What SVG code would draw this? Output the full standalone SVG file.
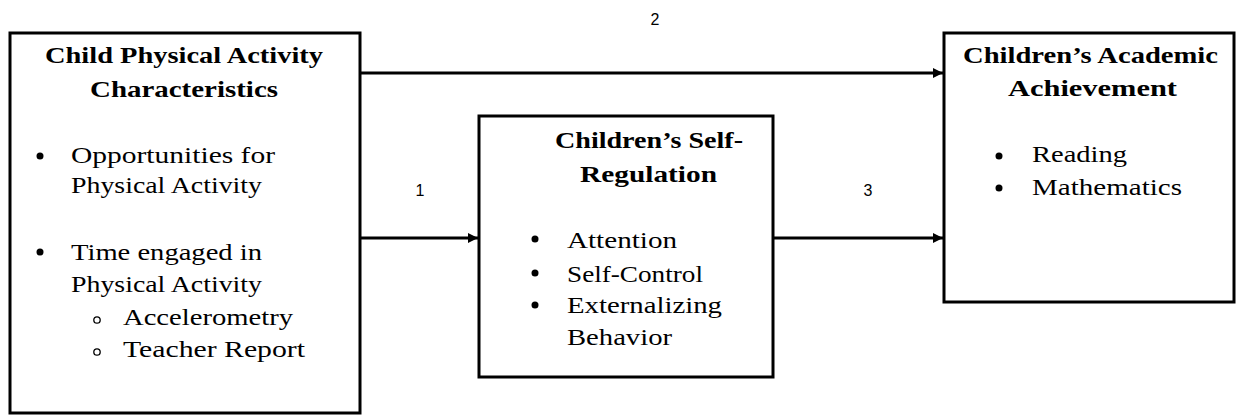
<svg xmlns="http://www.w3.org/2000/svg" width="1236" height="416" viewBox="0 0 1236 416">
<defs>
<style>
.box{fill:#fff;stroke:#000;stroke-width:3}
.t{font-family:"Liberation Serif","Times New Roman",serif;font-size:24px;fill:#000}
.b{font-weight:bold}
.n{font-family:"Liberation Sans",Arial,sans-serif;font-size:16px;fill:#000}
.c{stroke:#000;stroke-width:3;fill:none;marker-end:url(#ah)}
</style>
<marker id="ah" viewBox="0 0 10 10" refX="10" refY="5" markerWidth="3.5" markerHeight="3.5" orient="auto" markerUnits="strokeWidth">
<path d="M0,0 L10,5 L0,10 z" fill="#000"/>
</marker>
</defs>
<rect width="1236" height="416" fill="#fff"/>
<g id="connectors">
<line class="c" x1="360" y1="73" x2="943" y2="73"/>
<line class="c" x1="360" y1="238" x2="478" y2="238"/>
<line class="c" x1="773" y1="238" x2="943" y2="238"/>
<text class="n" x="655" y="25" text-anchor="middle">2</text>
<text class="n" x="420" y="196" text-anchor="middle">1</text>
<text class="n" x="868" y="196" text-anchor="middle">3</text>
</g>
<g id="node-pa">
<rect class="box" x="10" y="33" width="350" height="380"/>
<text class="t b" x="45" y="63" textLength="278" lengthAdjust="spacingAndGlyphs">Child Physical Activity</text>
<text class="t b" x="90" y="97" textLength="188" lengthAdjust="spacingAndGlyphs">Characteristics</text>
<circle cx="40" cy="156" r="3.5"/>
<text class="t" x="71" y="163" textLength="204" lengthAdjust="spacingAndGlyphs">Opportunities for</text>
<text class="t" x="71" y="193" textLength="191" lengthAdjust="spacingAndGlyphs">Physical Activity</text>
<circle cx="40" cy="252" r="3.5"/>
<text class="t" x="71" y="260" textLength="191" lengthAdjust="spacingAndGlyphs">Time engaged in</text>
<text class="t" x="71" y="292" textLength="191" lengthAdjust="spacingAndGlyphs">Physical Activity</text>
<circle cx="97" cy="320" r="3.2" fill="none" stroke="#000" stroke-width="1.3"/>
<text class="t" x="123" y="325" textLength="170" lengthAdjust="spacingAndGlyphs">Accelerometry</text>
<circle cx="97" cy="352" r="3.2" fill="none" stroke="#000" stroke-width="1.3"/>
<text class="t" x="123" y="357" textLength="182" lengthAdjust="spacingAndGlyphs">Teacher Report</text>
</g>
<g id="node-sr">
<rect class="box" x="479" y="116" width="294" height="261"/>
<text class="t b" x="555" y="148" textLength="188" lengthAdjust="spacingAndGlyphs">Children’s Self-</text>
<text class="t b" x="580" y="182" textLength="137" lengthAdjust="spacingAndGlyphs">Regulation</text>
<circle cx="535" cy="239" r="3.5"/>
<text class="t" x="567" y="248" textLength="110" lengthAdjust="spacingAndGlyphs">Attention</text>
<circle cx="535" cy="273" r="3.5"/>
<text class="t" x="567" y="282" textLength="136" lengthAdjust="spacingAndGlyphs">Self-Control</text>
<circle cx="535" cy="305" r="3.5"/>
<text class="t" x="567" y="313" textLength="155" lengthAdjust="spacingAndGlyphs">Externalizing</text>
<text class="t" x="567" y="345" textLength="105" lengthAdjust="spacingAndGlyphs">Behavior</text>
</g>
<g id="node-aa">
<rect class="box" x="944" y="33" width="290" height="269"/>
<text class="t b" x="963" y="63" textLength="255" lengthAdjust="spacingAndGlyphs">Children’s Academic</text>
<text class="t b" x="1008" y="96" textLength="169" lengthAdjust="spacingAndGlyphs">Achievement</text>
<circle cx="999" cy="156" r="3.5"/>
<text class="t" x="1032" y="162" textLength="95" lengthAdjust="spacingAndGlyphs">Reading</text>
<circle cx="999" cy="188" r="3.5"/>
<text class="t" x="1032" y="195" textLength="150" lengthAdjust="spacingAndGlyphs">Mathematics</text>
</g>
</svg>
